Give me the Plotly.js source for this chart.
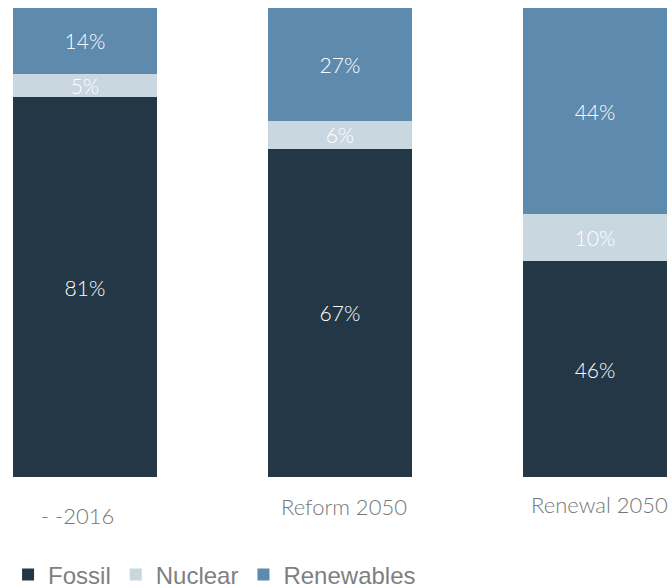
<!DOCTYPE html>
<html>
<head>
<meta charset="utf-8">
<script src="https://cdn.plot.ly/plotly-3.0.1.min.js"></script>
<style>html,body{margin:0;padding:0;background:#fff;}#chart{width:672px;height:588px;}</style>
</head>
<body>
<div id="chart"></div>
<script>
// Data
const categories = ["2016", "Reform 2050", "Renewal 2050"];
const categoryLabels = ["- -2016", "Reform 2050", "Renewal 2050"];
const fossil = [81, 70, 46];
const nuclear = [5, 6, 10];
const renewables = [14, 24, 44];
const fossilText = ["81%", "67%", "46%"];
const nuclearText = ["5%", "6%", "10%"];
const renewablesText = ["14%", "27%", "44%"];

const labelFont = {family: "Lato, 'Open Sans', sans-serif", size: 21, color: "#ffffff", weight: 300};

function barTrace(name, vals, txt, color) {
  return {
    type: "bar", name: name, x: categories, y: vals,
    text: txt, textposition: "inside", insidetextanchor: "middle",
    constraintext: "none", textfont: labelFont, insidetextfont: labelFont, cliponaxis: false,
    marker: {color: color, line: {width: 0}},
    width: 0.565, hoverinfo: "skip"
  };
}

const data = [
  barTrace("Fossil", fossil, fossilText, "#243746"),
  barTrace("Nuclear", nuclear, nuclearText, "#c9d7e1"),
  barTrace("Renewables", renewables, renewablesText, "#5e8aad")
];

const labelY = [-38, -29, -27];
const annotations = categories.map((c, i) => ({
  x: i, xref: "x", y: 0, yref: "y", yanchor: "middle",
  xshift: [-7, 4, 5][i], yshift: labelY[i],
  text: categoryLabels[i], showarrow: false,
  font: {family: "Lato, 'Open Sans', sans-serif", size: 22, color: "#777777", weight: 300}
}));

const layout = {
  width: 672, height: 588,
  margin: {l: 0, r: 0, t: 8, b: 111, autoexpand: false},
  barmode: "stack",
  paper_bgcolor: "#ffffff", plot_bgcolor: "#ffffff",
  xaxis: {type: "category", range: [-0.333, 2.302], showticklabels: false,
          showgrid: false, zeroline: false, showline: false, ticks: "", automargin: false},
  yaxis: {range: [0, 100], visible: false, showgrid: false, zeroline: false, automargin: false},
  showlegend: true,
  legend: {orientation: "h", x: 0.012, xanchor: "left", y: -0.209, yanchor: "middle",
           font: {family: "'Liberation Sans', Arial, sans-serif", size: 24, color: "#7f7f7f"},
           traceorder: "normal", itemclick: false},
  annotations: annotations
};

Plotly.newPlot("chart", data, layout, {staticPlot: true});
</script>
</body>
</html>
